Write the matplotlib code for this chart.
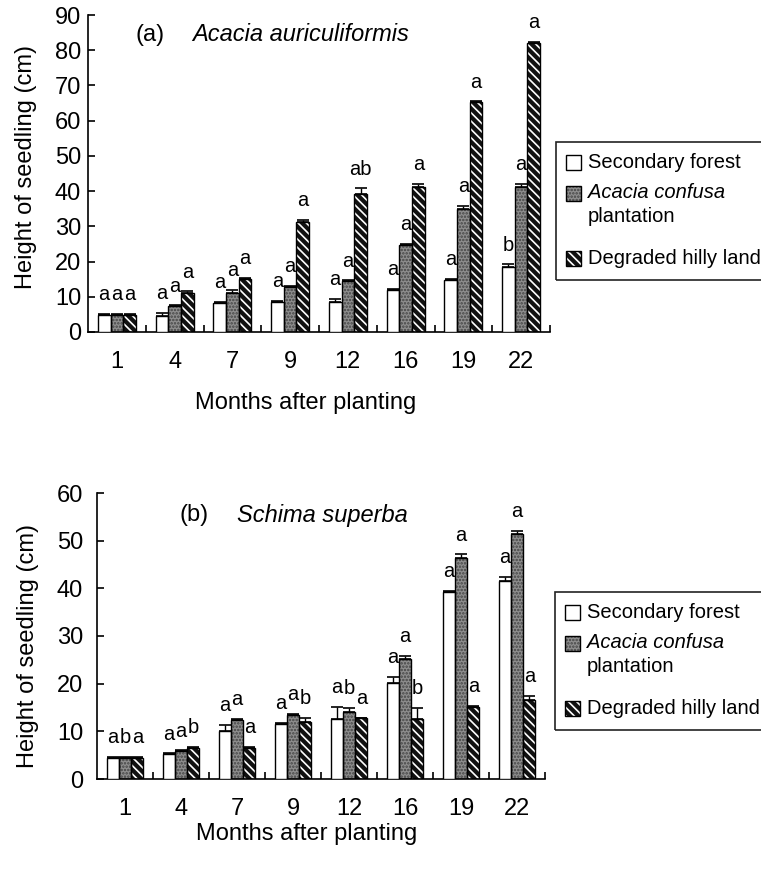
import matplotlib
matplotlib.use('Agg')
import matplotlib.pyplot as plt
from matplotlib.patches import Rectangle
import numpy as np

plt.rcParams['font.family'] = ['Liberation Sans', 'DejaVu Sans']
plt.rcParams['hatch.linewidth'] = 1.2

W, H = 761, 874

months = ['1', '4', '7', '9', '12', '16', '19', '22']

# (a) Acacia auriculiformis
a_secondary = [4.9, 4.6, 8.2, 8.5, 8.5, 12.0, 14.8, 18.4]
a_confusa = [4.9, 7.3, 11.2, 12.8, 14.4, 24.8, 35.0, 41.1]
a_degraded = [4.9, 11.2, 15.0, 31.1, 39.2, 41.1, 65.2, 82.1]
a_secondary_err = [0.3, 0.9, 0.3, 0.3, 0.9, 0.3, 0.3, 0.8]
a_confusa_err = [0.3, 0.3, 0.8, 0.3, 0.3, 0.3, 0.8, 0.9]
a_degraded_err = [0.3, 0.3, 0.3, 0.8, 1.6, 0.9, 0.3, 0.3]
a_secondary_sig = ['a', 'a', 'a', 'a', 'a', 'a', 'a', 'b']
a_confusa_sig = ['a', 'a', 'a', 'a', 'a', 'a', 'a', 'a']
a_degraded_sig = ['a', 'a', 'a', 'a', 'ab', 'a', 'a', 'a']

# (b) Schima superba
b_secondary = [4.4, 5.2, 10.1, 11.6, 12.6, 20.1, 39.3, 41.5]
b_confusa = [4.4, 5.8, 12.4, 13.4, 14.1, 25.1, 46.3, 51.4]
b_degraded = [4.4, 6.6, 6.6, 12.0, 12.7, 12.6, 15.1, 16.5]
b_secondary_err = [0.2, 0.2, 1.3, 0.2, 2.5, 1.4, 0.2, 0.9]
b_confusa_err = [0.2, 0.2, 0.2, 0.2, 0.9, 0.7, 0.8, 0.7]
b_degraded_err = [0.2, 0.2, 0.2, 0.8, 0.2, 2.3, 0.2, 0.9]
b_secondary_sig = ['a', 'a', 'a', 'a', 'a', 'a', 'a', 'a']
b_confusa_sig = ['b', 'a', 'a', 'a', 'b', 'a', 'a', 'a']
b_degraded_sig = ['a', 'b', 'a', 'b', 'a', 'b', 'a', 'a']

styles = [
    dict(fc='white', hc=None, hatch=None),
    dict(fc='#8e8e8e', hc='#444444', hatch='.....'),
    dict(fc='#111111', hc='white', hatch='\\\\\\\\'),
]

bar_w = 0.22


def bars(ax, x, h, st):
    if st['hatch']:
        ax.bar(x, h, bar_w, color=st['fc'], edgecolor=st['hc'],
               hatch=st['hatch'], linewidth=0, zorder=2)
        ax.bar(x, h, bar_w, fill=False, edgecolor='black', linewidth=1, zorder=3)
    else:
        ax.bar(x, h, bar_w, color=st['fc'], edgecolor='black', linewidth=1, zorder=3)


def panel(ax, series, errs, sigs, ymax, ypad, xpad):
    centers = np.arange(len(months)) + 0.5
    for k, (vals, err, sig) in enumerate(zip(series, errs, sigs)):
        x = centers + (k - 1) * bar_w
        bars(ax, x, vals, styles[k])
        ax.errorbar(x, vals, yerr=[np.zeros(len(err)), err], fmt='none',
                    ecolor='black', elinewidth=1, capsize=4, capthick=1.2, zorder=4)
        for xi, v, e, s in zip(x, vals, err, sig):
            ax.annotate(s, (xi, v + e), xytext=(0, 7), textcoords='offset points',
                        ha='center', va='bottom', fontsize=14.5)
    ax.set_xlim(0, len(months))
    ax.set_ylim(0, ymax)
    ax.set_yticks(np.arange(0, ymax + 1, 10))
    ax.set_xticks(centers)
    ax.set_xticklabels(months)
    ax.set_xticks(np.arange(1, len(months) + 1), minor=True)
    ax.tick_params(axis='x', which='major', length=0, pad=xpad, labelsize=17)
    ax.tick_params(axis='x', which='minor', direction='in', length=5, width=1.2)
    ax.tick_params(axis='y', direction='in', length=5, width=1.2, pad=ypad, labelsize=17)
    for side in ['top', 'right']:
        ax.spines[side].set_visible(False)
    for side in ['left', 'bottom']:
        ax.spines[side].set_linewidth(1.2)


def legend_box(fig, left, top):
    def fx(px):
        return px / W

    def fy(py):
        return 1 - py / H

    fig.add_artist(Rectangle((fx(left), fy(top + 138)), fx(230), 138 / H,
                             transform=fig.transFigure, fill=False,
                             edgecolor='#222222', linewidth=1.2))
    rows = [(20, 'Secondary forest', 0, 'normal'),
            (51, 'Acacia confusa', 1, 'italic'),
            (75, 'plantation', None, 'normal'),
            (116, 'Degraded hilly land', 2, 'normal')]
    for dy, label, k, style in rows:
        yc = top + dy
        if k is not None:
            st = styles[k]
            r = (fx(left + 10), fy(yc + 7.5))
            rw, rh = fx(15), 15 / H
            if st['hatch']:
                fig.add_artist(Rectangle(r, rw, rh, transform=fig.transFigure,
                                         facecolor=st['fc'], edgecolor=st['hc'],
                                         hatch=st['hatch'], linewidth=0))
                fig.add_artist(Rectangle(r, rw, rh, transform=fig.transFigure,
                                         fill=False, edgecolor='black', linewidth=1))
            else:
                fig.add_artist(Rectangle(r, rw, rh, transform=fig.transFigure,
                                         facecolor='white', edgecolor='black', linewidth=1))
        fig.text(fx(left + 32), fy(yc), label, ha='left', va='center',
                 fontsize=14.5, fontstyle=style)


fig = plt.figure(figsize=(W / 100, H / 100), dpi=100)
ax1 = fig.add_axes([88 / W, 1 - 332 / H, 462 / W, 317 / H])
ax2 = fig.add_axes([97 / W, 1 - 779 / H, 448 / W, 286 / H])

panel(ax1, [a_secondary, a_confusa, a_degraded],
      [a_secondary_err, a_confusa_err, a_degraded_err],
      [a_secondary_sig, a_confusa_sig, a_degraded_sig], 90, 5, 14)
panel(ax2, [b_secondary, b_confusa, b_degraded],
      [b_secondary_err, b_confusa_err, b_degraded_err],
      [b_secondary_sig, b_confusa_sig, b_degraded_sig], 60, 10, 14)

ax1.text(0.102, 0.937, '(a)', transform=ax1.transAxes, fontsize=17, va='center')
ax1.text(0.225, 0.937, 'Acacia auriculiformis', transform=ax1.transAxes,
         fontsize=17, va='center', fontstyle='italic')
ax2.text(0.185, 0.923, '(b)', transform=ax2.transAxes, fontsize=17, va='center')
ax2.text(0.3125, 0.923, 'Schima superba', transform=ax2.transAxes,
         fontsize=17, va='center', fontstyle='italic')

fig.text(26 / W, 1 - 167 / H, 'Height of seedling (cm)', rotation=90,
         ha='center', va='center', fontsize=17)
fig.text(28 / W, 1 - 646 / H, 'Height of seedling (cm)', rotation=90,
         ha='center', va='center', fontsize=17)
fig.text(306 / W, 1 - 403 / H, 'Months after planting', ha='center',
         va='center', fontsize=17)
fig.text(307 / W, 1 - 834 / H, 'Months after planting', ha='center',
         va='center', fontsize=17)

legend_box(fig, 556, 142)
legend_box(fig, 555, 592)

fig.savefig('out.png', dpi=100)
